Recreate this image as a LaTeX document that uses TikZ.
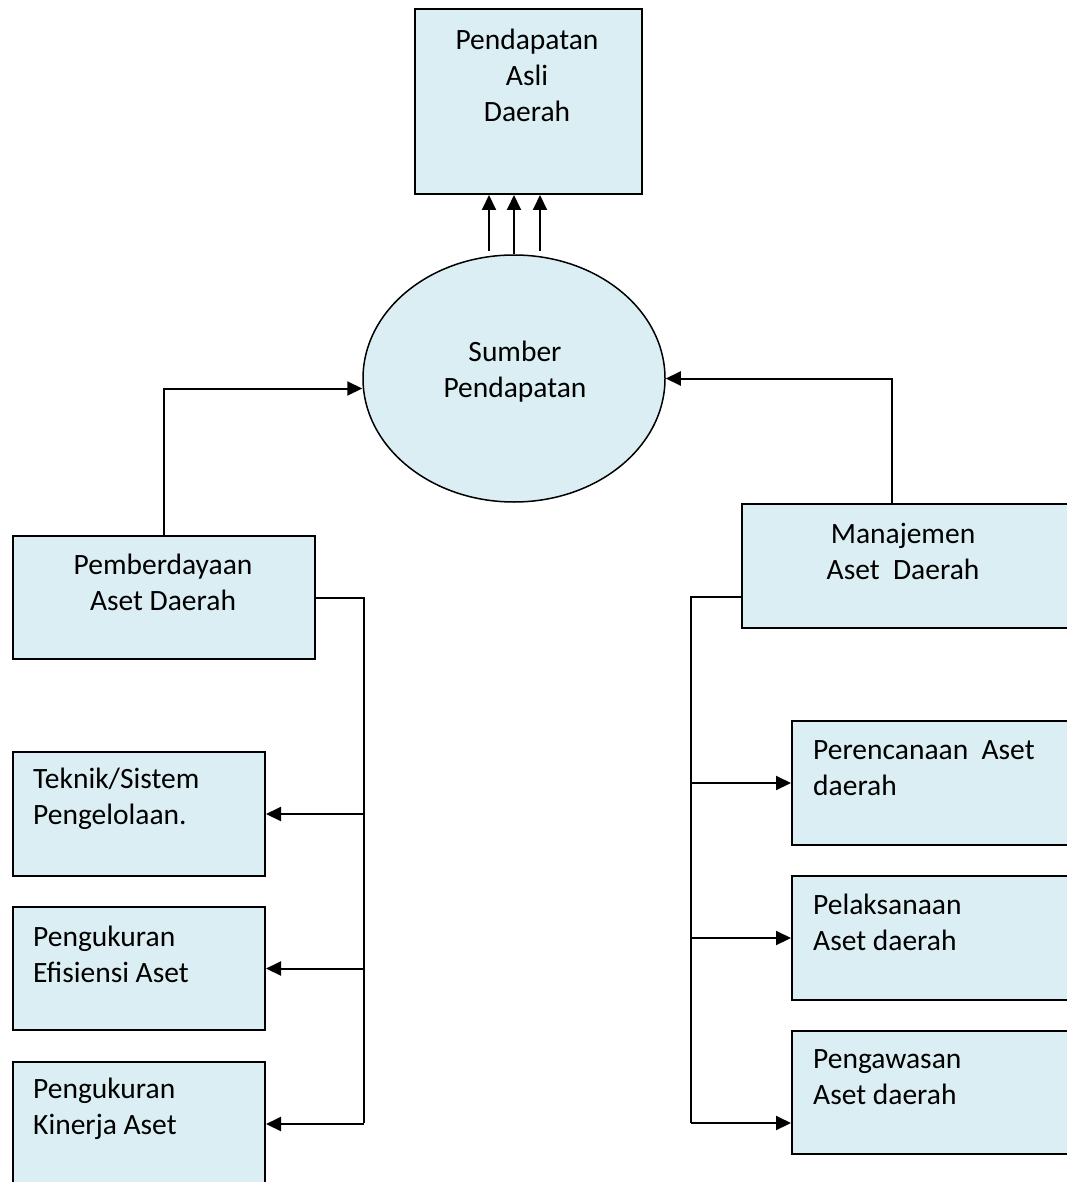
\documentclass[tikz,border=0pt]{standalone}
\usepackage{fontspec}
\setmainfont{Carlito}
\usetikzlibrary{shapes.geometric,arrows.meta,calc}
\definecolor{boxfill}{HTML}{DAEEF3}
\tikzset{
  box/.style={draw=black,fill=boxfill,line width=2pt,rectangle,inner sep=0pt,anchor=north west},
  txt/.style={inner sep=0pt,font=\fontsize{29.5}{36}\selectfont},
  ltxt/.style={txt,align=left,anchor=west},
  ctxt/.style={txt,align=center,anchor=center},
  conn/.style={line width=2pt,draw=black},
  arr/.style={conn,-{Triangle[length=15pt,width=14pt]}}
}
\begin{document}
\begin{tikzpicture}[x=1pt,y=-1pt]
\useasboundingbox (0,0) rectangle (1067,1182);
\clip (0,0) rectangle (1067,1182);
% boxes
\node[box,minimum width=227pt,minimum height=185pt] (pad) at (414,8) {};
\node[ellipse,draw=black,fill=boxfill,line width=1.5pt,minimum width=302pt,minimum height=247pt,inner sep=0pt] (sp) at (514,378.5) {};
\node[box,minimum width=302pt,minimum height=123pt] (pem) at (12,535) {};
\node[box,minimum width=334pt,minimum height=124pt] (man) at (741,503) {};
\node[box,minimum width=252pt,minimum height=124pt] (t1) at (12,751) {};
\node[box,minimum width=252pt,minimum height=123pt] (t2) at (12,906) {};
\node[box,minimum width=252pt,minimum height=124pt] (t3) at (12,1061) {};
\node[box,minimum width=290pt,minimum height=124pt] (r1) at (791,720) {};
\node[box,minimum width=290pt,minimum height=124pt] (r2) at (791,875) {};
\node[box,minimum width=290pt,minimum height=123pt] (r3) at (791,1030) {};
% texts
\node[ctxt] (padt) at (527,75) {Pendapatan\\Asli\\Daerah};
\node[ctxt] (spt) at (515,372) {Sumber\\Pendapatan};
\node[ctxt] (pemt) at (163,582) {Pemberdayaan\\Aset Daerah};
\node[ctxt] (mant) at (903,551) {Manajemen\\Aset\ \ Daerah};
\node[ltxt] (t1t) at (33,799) {Teknik/Sistem\\Pengelolaan.};
\node[ltxt] (t2t) at (33,954) {Pengukuran\\Efisiensi Aset};
\node[ltxt] (t3t) at (33,1109) {Pengukuran\\Kinerja Aset};
\node[ltxt] (r1t) at (813,768) {Perencanaan\ \ Aset\\daerah};
\node[ltxt] (r2t) at (813,922) {Pelaksanaan\\Aset daerah};
\node[ltxt] (r3t) at (813,1077) {Pengawasan\\Aset daerah};
% arrows to top box
\coordinate (a1) at (489,251);
\coordinate (a3) at (540,251);
\draw[arr] (a1) -- (a1 |- pad.south);
\draw[arr] (sp.north) -- (sp.north |- pad.south);
\draw[arr] (a3) -- (a3 |- pad.south);
% side connectors
\draw[arr] (pem.north) |- ([yshift=-10pt]sp.west);
\draw[arr] ([xshift=-17pt]man.north) |- (sp.east);
% left bus
\coordinate (lbus) at (364,1123);
\draw[conn] (pem.east) -| (lbus);
\draw[arr] (t1.east -| lbus) -- (t1.east);
\draw[arr] (t2.east -| lbus) -- (t2.east);
\draw[arr] (t3.east -| lbus) -- (t3.east);
% right bus
\coordinate (rbus) at (691,1123);
\coordinate (mj) at (741,597);
\draw[conn] (mj) -| (rbus);
\draw[arr] (r1.west -| rbus) -- (r1.west);
\draw[arr] (r2.west -| rbus) -- (r2.west);
\draw[arr] (rbus) -- (rbus -| r3.west);
\end{tikzpicture}
\end{document}
